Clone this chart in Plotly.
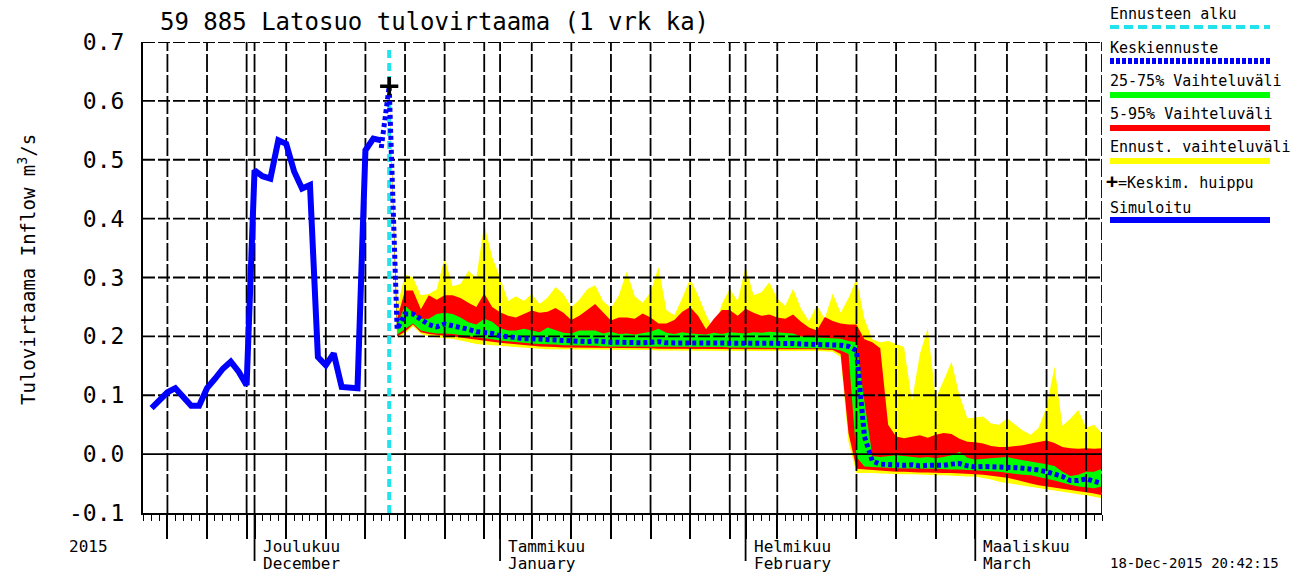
import pandas as pd
import plotly.graph_objects as go

# ---------------- texts ----------------
TITLE = "59 885 Latosuo tulovirtaama (1 vrk ka)"
Y_TITLE = "Tulovirtaama Inflow m<sup>3</sup>/s"
TIMESTAMP = "18-Dec-2015 20:42:15"
YEAR_LABEL = "2015"
LEGEND_LABELS = ["Ennusteen alku", "Keskiennuste", "25-75% Vaihteluväli",
                 "5-95% Vaihteluväli", "Ennust. vaihteluväli", "=Keskim. huippu", "Simuloitu"]

# ---------------- axes ----------------
X_RANGE = ["2015-11-16 22:00", "2016-03-17 00:00"]
Y_RANGE = [-0.1, 0.7]
Y_TICKS = [-0.1, 0.0, 0.1, 0.2, 0.3, 0.4, 0.5, 0.6, 0.7]
Y_TICK_TEXT = ["-0.1", "0.0", "0.1", "0.2", "0.3", "0.4", "0.5", "0.6", "0.7"]
GRID_MONTHS = ["2015-11", "2015-12", "2016-01", "2016-02", "2016-03"]
GRID_DAYS = [1, 5, 10, 15, 20, 25, 30]
MONTH_STARTS = ["2015-12-01", "2016-01-01", "2016-02-01", "2016-03-01"]
MONTH_FI = ["Joulukuu", "Tammikuu", "Helmikuu", "Maaliskuu"]
MONTH_EN = ["December", "January", "February", "March"]

# ---------------- data ----------------
SIM_START = "2015-11-18"
SIM = [0.078, 0.092, 0.105, 0.112, 0.097, 0.082, 0.082, 0.112, 0.128, 0.145,
       0.157, 0.140, 0.117, 0.482, 0.472, 0.468, 0.533, 0.527, 0.480, 0.451,
       0.457, 0.165, 0.151, 0.171, 0.114, 0.112, 0.112, 0.516, 0.536, 0.533]

MEAN_START = "2015-12-17"
MEAN = [0.52, 0.625, 0.212, 0.238, 0.238, 0.228, 0.22, 0.216, 0.221, 0.218, 0.216, 0.212, 0.208, 0.207, 0.205,
        0.201, 0.199, 0.197, 0.196, 0.196, 0.195, 0.195, 0.193, 0.192, 0.191,
        0.192, 0.191, 0.192, 0.19, 0.19, 0.19, 0.189, 0.19, 0.189, 0.19,
        0.191, 0.189, 0.189, 0.19, 0.189, 0.188, 0.189, 0.19, 0.189, 0.189, 0.188,
        0.189, 0.188, 0.189, 0.19, 0.188, 0.188, 0.188, 0.187, 0.187, 0.187,
        0.186, 0.186, 0.185, 0.183, 0.176, 0.03, -0.012, -0.017, -0.018, -0.019,
        -0.019, -0.018, -0.02, -0.019, -0.02, -0.019, -0.017, -0.016, -0.02,
        -0.022, -0.021, -0.021, -0.022, -0.022, -0.023, -0.024, -0.025, -0.027, -0.03,
        -0.033, -0.038, -0.045, -0.045, -0.042, -0.047, -0.05]

FORECAST_START = "2015-12-18"
YELLOW_HI = [0.625, 0.25, 0.305, 0.30, 0.27, 0.272, 0.28, 0.334, 0.285, 0.289, 0.311, 0.30, 0.39, 0.335,
             0.30, 0.26, 0.268, 0.26, 0.272, 0.255, 0.266, 0.284, 0.272, 0.25,
             0.262, 0.28, 0.287, 0.26, 0.248, 0.27, 0.31, 0.268, 0.257, 0.275,
             0.318, 0.245, 0.236, 0.265, 0.298, 0.27, 0.237, 0.21, 0.255, 0.281, 0.26,
             0.318, 0.27, 0.275, 0.292, 0.264, 0.252, 0.281, 0.247, 0.226, 0.253,
             0.23, 0.273, 0.24, 0.265, 0.298, 0.23, 0.195, 0.19, 0.192, 0.187,
             0.182, 0.09, 0.17, 0.214, 0.095, 0.125, 0.157, 0.10, 0.061,
             0.062, 0.064, 0.052, 0.05, 0.061, 0.05, 0.04, 0.033, 0.045, 0.08,
             0.149, 0.048, 0.06, 0.075, 0.045, 0.05, 0.035]
RED_HI = [0.625, 0.23, 0.278, 0.278, 0.246, 0.27, 0.262, 0.27, 0.27, 0.265, 0.257, 0.25, 0.273, 0.25,
          0.241, 0.235, 0.232, 0.238, 0.244, 0.24, 0.242, 0.248, 0.24, 0.228,
          0.235, 0.245, 0.255, 0.241, 0.227, 0.232, 0.232, 0.23, 0.239, 0.232,
          0.222, 0.222, 0.228, 0.242, 0.25, 0.235, 0.212, 0.23, 0.245, 0.245, 0.235,
          0.247, 0.24, 0.235, 0.237, 0.232, 0.23, 0.237, 0.225, 0.215, 0.21,
          0.233, 0.226, 0.222, 0.22, 0.22, 0.195, 0.19, 0.18, 0.05, 0.03,
          0.027, 0.03, 0.032, 0.028, 0.033, 0.036, 0.034, 0.026, 0.021,
          0.02, 0.018, 0.014, 0.012, 0.012, 0.013, 0.015, 0.018, 0.021, 0.023,
          0.019, 0.012, 0.01, 0.009, 0.01, 0.009, 0.01]
GREEN_HI = [0.625, 0.22, 0.252, 0.24, 0.23, 0.23, 0.238, 0.24, 0.238, 0.232, 0.224, 0.22, 0.23, 0.225,
            0.214, 0.21, 0.21, 0.213, 0.21, 0.207, 0.215, 0.21, 0.206, 0.205,
            0.21, 0.21, 0.21, 0.205, 0.208, 0.204, 0.205, 0.203, 0.205, 0.208,
            0.213, 0.206, 0.204, 0.207, 0.205, 0.204, 0.203, 0.206, 0.204, 0.207, 0.206,
            0.205, 0.207, 0.206, 0.208, 0.207, 0.207, 0.205, 0.2, 0.199, 0.199,
            0.198, 0.196, 0.196, 0.192, 0.19, 0.09, -0.003, -0.005, -0.003, -0.002,
            -0.003, -0.004, -0.006, -0.005, -0.007, -0.005, -0.002, 0.004, -0.006,
            -0.009, -0.008, -0.006, -0.006, -0.005, -0.008, -0.01, -0.012, -0.015, -0.017,
            -0.02, -0.03, -0.037, -0.035, -0.03, -0.03, -0.025]
GREEN_LO = [0.625, 0.203, 0.212, 0.222, 0.21, 0.207, 0.205, 0.205, 0.204, 0.202, 0.2, 0.198, 0.197, 0.195,
            0.193, 0.191, 0.19, 0.189, 0.188, 0.187, 0.186, 0.186, 0.185, 0.185,
            0.184, 0.184, 0.184, 0.183, 0.183, 0.183, 0.183, 0.183, 0.183, 0.183,
            0.182, 0.182, 0.182, 0.182, 0.182, 0.182, 0.182, 0.182, 0.182, 0.181, 0.181,
            0.181, 0.181, 0.181, 0.181, 0.181, 0.181, 0.181, 0.18, 0.18, 0.18,
            0.18, 0.179, 0.176, 0.17, -0.005, -0.021, -0.022, -0.023, -0.023, -0.024,
            -0.024, -0.024, -0.025, -0.025, -0.025, -0.025, -0.026, -0.026, -0.027,
            -0.027, -0.028, -0.029, -0.03, -0.032, -0.033, -0.035, -0.036, -0.039, -0.042,
            -0.045, -0.048, -0.052, -0.055, -0.057, -0.058, -0.055]
RED_LO = [0.625, 0.2, 0.208, 0.22, 0.207, 0.204, 0.202, 0.201, 0.2, 0.198, 0.196, 0.194, 0.193, 0.191,
          0.189, 0.187, 0.186, 0.185, 0.184, 0.183, 0.182, 0.182, 0.181, 0.181,
          0.18, 0.18, 0.18, 0.18, 0.18, 0.18, 0.18, 0.18, 0.18, 0.18,
          0.179, 0.179, 0.179, 0.179, 0.179, 0.179, 0.179, 0.179, 0.179, 0.179, 0.179,
          0.179, 0.179, 0.179, 0.179, 0.179, 0.179, 0.179, 0.178, 0.178, 0.178,
          0.178, 0.177, 0.17, 0.035, -0.025, -0.027, -0.028, -0.029, -0.029, -0.03,
          -0.03, -0.03, -0.031, -0.031, -0.031, -0.032, -0.032, -0.033, -0.033,
          -0.034, -0.035, -0.036, -0.038, -0.04, -0.043, -0.046, -0.05, -0.053, -0.056,
          -0.058, -0.06, -0.061, -0.063, -0.065, -0.067, -0.07]
YELLOW_LO = [0.625, 0.197, 0.205, 0.217, 0.204, 0.2, 0.198, 0.197, 0.196, 0.193, 0.19, 0.187, 0.185, 0.184,
             0.183, 0.182, 0.181, 0.18, 0.18, 0.179, 0.178, 0.178, 0.178, 0.177,
             0.177, 0.177, 0.177, 0.177, 0.177, 0.177, 0.177, 0.177, 0.177, 0.177,
             0.176, 0.176, 0.176, 0.176, 0.176, 0.176, 0.176, 0.176, 0.176, 0.176, 0.176,
             0.176, 0.176, 0.176, 0.176, 0.176, 0.176, 0.176, 0.175, 0.175, 0.175,
             0.175, 0.174, 0.165, 0.02, -0.032, -0.032, -0.032, -0.033, -0.033, -0.034,
             -0.034, -0.034, -0.035, -0.035, -0.036, -0.036, -0.037, -0.037, -0.038,
             -0.038, -0.04, -0.043, -0.047, -0.05, -0.052, -0.054, -0.056, -0.058, -0.06,
             -0.062, -0.064, -0.066, -0.068, -0.07, -0.072, -0.075]

PEAK_DATE = "2015-12-18"
PEAK_VALUE = 0.625

# ---------------- styling ----------------
FONT = "DejaVu Sans Mono"
BLUE = "#0000FF"
CYAN = "#22E2EC"
YELLOW = "#FFFF00"
RED = "#FF0000"
GREEN = "#00FF00"
W, H = 1311, 574
L, R, T, B = 143, 1102, 42, 513   # plot box in screen pixels


def px_x(px):
    return (px - L) / (R - L)


def px_y(py):
    return (B - py) / (B - T)


sim_dates = pd.date_range(SIM_START, periods=len(SIM), freq="D")
mean_dates = pd.date_range(MEAN_START, periods=len(MEAN), freq="D")
fc_dates = list(pd.date_range(FORECAST_START, periods=len(YELLOW_HI), freq="D"))

x_lo, x_hi = pd.Timestamp(X_RANGE[0]), pd.Timestamp(X_RANGE[1])
grid_dates = []
for m in GRID_MONTHS:
    for d in GRID_DAYS:
        try:
            ts = pd.Timestamp(f"{m}-{d:02d}")
        except ValueError:
            continue
        if x_lo <= ts <= x_hi:
            grid_dates.append(ts)

fig = go.Figure()


def band(hi, lo, color):
    fig.add_trace(go.Scatter(
        x=fc_dates + fc_dates[::-1], y=list(hi) + list(lo)[::-1],
        fill="toself", fillcolor=color, mode="lines",
        line=dict(width=0, color=color), hoverinfo="skip", showlegend=False))


band(YELLOW_HI, YELLOW_LO, YELLOW)
band(RED_HI, RED_LO, RED)
band(GREEN_HI, GREEN_LO, GREEN)

# grid lines (drawn over the bands, like the original)
gx, gy = [], []
for d in grid_dates + [x_hi]:
    gx += [d, d, None]
    gy += [Y_RANGE[0], Y_RANGE[1], None]
fig.add_trace(go.Scatter(x=gx, y=gy, mode="lines", line=dict(color="black", width=1.8, dash="18px,3px"),
                         hoverinfo="skip", showlegend=False))
hx, hy = [], []
for v in Y_TICKS:
    if v in (Y_RANGE[0], 0.0):
        continue
    hx += [x_lo, x_hi, None]
    hy += [v, v, None]
fig.add_trace(go.Scatter(x=hx, y=hy, mode="lines", line=dict(color="black", width=1.8, dash="12px,3px"),
                         hoverinfo="skip", showlegend=False))
fig.add_trace(go.Scatter(x=[x_lo, x_hi], y=[0.0, 0.0], mode="lines", line=dict(color="black", width=1.8),
                         hoverinfo="skip", showlegend=False))

# forecast start
fs = pd.Timestamp(FORECAST_START)
fig.add_trace(go.Scatter(x=[fs, fs], y=[Y_RANGE[0], Y_RANGE[1] - 0.01], mode="lines",
                         line=dict(color=CYAN, width=4, dash="8px,5px"), showlegend=False))
# mean forecast
fig.add_trace(go.Scatter(x=mean_dates, y=MEAN, mode="lines",
                         line=dict(color=BLUE, width=5, dash="4px,3px"), showlegend=False))
# simulated
fig.add_trace(go.Scatter(x=sim_dates, y=SIM, mode="lines",
                         line=dict(color=BLUE, width=6), showlegend=False))
# mean peak
fig.add_trace(go.Scatter(x=[PEAK_DATE], y=[PEAK_VALUE], mode="markers",
                         marker=dict(symbol="cross-thin", size=13, line=dict(color="black", width=3.5)),
                         showlegend=False))

shapes = []
annotations = []

# month ticks extended below axis
for m in MONTH_STARTS:
    shapes.append(dict(type="line", xref="x", yref="paper", x0=m, x1=m, y0=0, y1=px_y(561),
                       line=dict(color="black", width=1.8)))

for m, fi, en in zip(MONTH_STARTS, MONTH_FI, MONTH_EN):
    annotations.append(dict(x=m, xref="x", y=px_y(546), yref="paper", text=fi, showarrow=False,
                            xanchor="left", yanchor="middle", xshift=6, font=dict(family=FONT, size=16)))
    annotations.append(dict(x=m, xref="x", y=px_y(563), yref="paper", text=en, showarrow=False,
                            xanchor="left", yanchor="middle", xshift=6, font=dict(family=FONT, size=16)))

annotations.append(dict(x=px_x(88), y=px_y(546), xref="paper", yref="paper", text=YEAR_LABEL,
                        showarrow=False, xanchor="center", yanchor="middle", font=dict(family=FONT, size=16)))
annotations.append(dict(x=px_x(1108), y=px_y(563), xref="paper", yref="paper", text=TIMESTAMP,
                        showarrow=False, xanchor="left", yanchor="middle", font=dict(family=FONT, size=14)))
annotations.append(dict(x=px_x(27), y=px_y(270), xref="paper", yref="paper", text=Y_TITLE,
                        showarrow=False, textangle=-90, xanchor="center", yanchor="middle",
                        font=dict(family=FONT, size=19)))

# legend (text above a line sample)
leg_x0, leg_x1 = px_x(1110), px_x(1270)
legend_rows = [
    (LEGEND_LABELS[0], 14, 27, dict(color=CYAN, width=4, dash="9px,5px")),
    (LEGEND_LABELS[1], 48, 61, dict(color=BLUE, width=6, dash="4px,2px")),
    (LEGEND_LABELS[2], 81, 95, dict(color=GREEN, width=6)),
    (LEGEND_LABELS[3], 114, 128, dict(color=RED, width=6)),
    (LEGEND_LABELS[4], 147, 161, dict(color=YELLOW, width=6)),
    (LEGEND_LABELS[6], 208, 220, dict(color=BLUE, width=6)),
]
for text, ty, ly, line in legend_rows:
    annotations.append(dict(x=leg_x0, y=px_y(ty), xref="paper", yref="paper", text=text, showarrow=False,
                            xanchor="left", yanchor="middle", xshift=-2, font=dict(family=FONT, size=15)))
    shapes.append(dict(type="line", xref="paper", yref="paper", x0=leg_x0, x1=leg_x1,
                       y0=px_y(ly), y1=px_y(ly), line=line))
annotations.append(dict(x=px_x(1104), y=px_y(181), xref="paper", yref="paper",
                        text="<span style='font-size:20px'><b>+</b></span>" + LEGEND_LABELS[5],
                        showarrow=False, xanchor="left", yanchor="middle",
                        font=dict(family=FONT, size=15, color="black")))

fig.update_layout(
    width=W, height=H,
    margin=dict(l=L, r=W - R, t=T, b=H - B, pad=0),
    paper_bgcolor="white", plot_bgcolor="white",
    showlegend=False,
    title=dict(text=TITLE, x=160 / W, xanchor="left", y=1 - 22 / H, yanchor="middle",
               xref="container", yref="container", font=dict(family=FONT, size=24, color="black")),
    font=dict(family=FONT, color="black"),
    xaxis=dict(type="date", range=[x_lo, x_hi], showgrid=False, zeroline=False,
               showline=True, linecolor="black", linewidth=2,
               tickmode="array", tickvals=grid_dates, showticklabels=False,
               ticks="outside", ticklen=24, tickwidth=1.8, tickcolor="black",
               minor=dict(ticks="outside", ticklen=6, tickwidth=1.2, tickcolor="black",
                          tickmode="linear", tick0="2015-11-01", dtick=86400000, showgrid=False)),
    yaxis=dict(range=Y_RANGE, showgrid=False, zeroline=False,
               showline=True, linecolor="black", linewidth=2,
               tickmode="array", tickvals=Y_TICKS, ticktext=Y_TICK_TEXT,
               ticks="", ticklabelstandoff=12,
               tickfont=dict(family=FONT, size=23, color="black")),
    shapes=shapes,
    annotations=annotations,
)

fig.write_html("out.html", config={"displayModeBar": False},
               post_script="document.body.style.margin='0px';")
